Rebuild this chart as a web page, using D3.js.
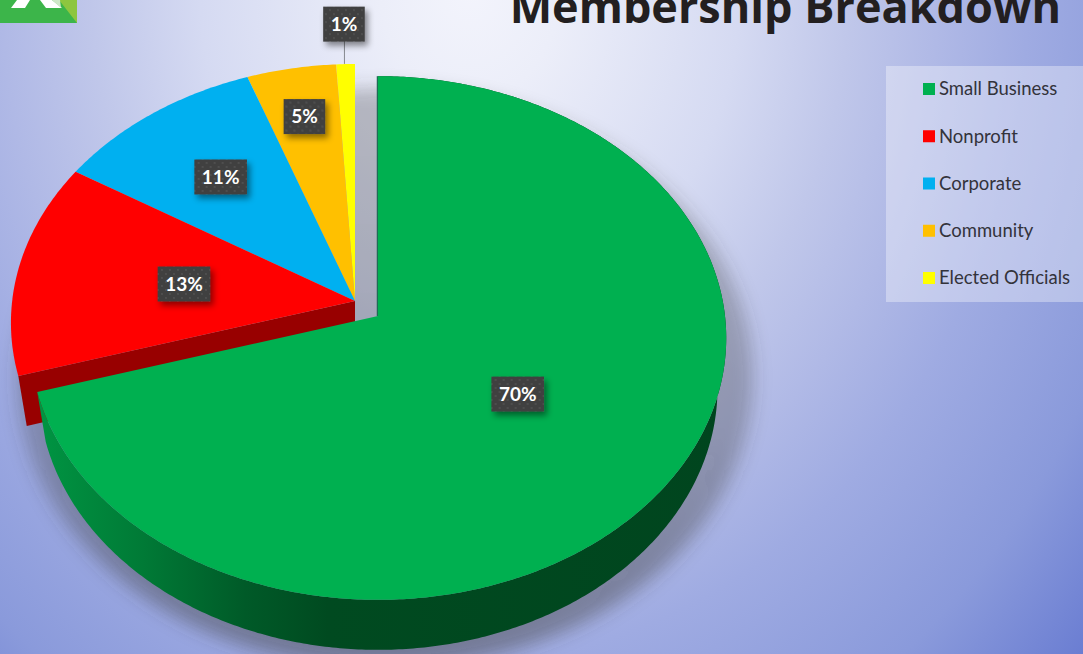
<!DOCTYPE html>
<html>
<head>
<meta charset="utf-8">
<script src="https://cdn.jsdelivr.net/npm/d3@7"></script>
<style>
  html, body { margin: 0; padding: 0; overflow: hidden; }
  svg { display: block; }
</style>
</head>
<body>
<script>
// the data
const categories = ["Small Business", "Nonprofit", "Corporate", "Community", "Elected Officials"];
const shares = [70.4, 13.4, 10.7, 4.55, 0.95];

const colors = ["#00b050", "#ff0000", "#00b0f0", "#ffc000", "#ffff00"];
// how far along the radius each label sits
const labelRadius = [0.49, 0.5, 0.64, 0.77, 1.17];

const width = 1083, height = 654;
const depth = 50, bottomScale = 0.975;
const tilt = 0.084;   // perspective of the tilted disc

// center of the pie and the shift of the pulled out slice
const cx = 355, cy = 301, pullX = 23, pullY = 15;
const restScale = 0.988;

const scaleX = d3.scaleLinear().domain([-1, 1]).range([-347, 347]);
const scaleY = d3.scaleLinear().domain([-1, 1]).range([-260, 260]);

// angle + radius on the flat disc -> pixels relative to the apex
function project(angle, r) {
  const u = r * Math.sin(angle), v = -r * Math.cos(angle);
  const w = 1 - tilt * v;
  return [scaleX(u / w), scaleY(v / w)];
}

const svg = d3.select("body").append("svg")
  .attr("width", width)
  .attr("height", height);

const defs = svg.append("defs");

const bg = defs.append("radialGradient")
  .attr("id", "bg")
  .attr("gradientUnits", "userSpaceOnUse")
  .attr("cx", 0).attr("cy", 0).attr("r", 900)
  .attr("gradientTransform", "translate(470,-10) scale(1,1.2)");
[[0, "#f3f4fc"], [0.1, "#eceef9"], [0.3, "#d5daf2"], [0.42, "#c0c7ea"], [0.52, "#b0b9e6"], [0.62, "#9fabe2"], [0.78, "#8a9adb"], [0.92, "#6a7dd2"], [1, "#5f74ce"]]
  .forEach(s => bg.append("stop").attr("offset", s[0]).attr("stop-color", s[1]));

const rim = defs.append("linearGradient")
  .attr("id", "rim")
  .attr("gradientUnits", "userSpaceOnUse")
  .attr("x1", 40).attr("x2", 726).attr("y1", 0).attr("y2", 0);
[[0, "#009442"], [0.15, "#007a36"], [0.3, "#005a28"], [0.42, "#004a20"], [1, "#00451e"]]
  .forEach(s => rim.append("stop").attr("offset", s[0]).attr("stop-color", s[1]));

// the shadow gets heavier towards the bottom of the pie
const shade = defs.append("linearGradient")
  .attr("id", "shade")
  .attr("x1", 0).attr("x2", 0).attr("y1", 0).attr("y2", 1);
[[0, 0.3], [0.6, 0.32], [1, 0.48]]
  .forEach(s => shade.append("stop").attr("offset", s[0]).attr("stop-color", "#404040").attr("stop-opacity", s[1]));

defs.append("filter").attr("id", "blur")
  .attr("x", "-10%").attr("y", "-10%").attr("width", "120%").attr("height", "120%")
  .append("feGaussianBlur").attr("stdDeviation", 9);

const drop = defs.append("filter").attr("id", "drop")
  .attr("x", "-30%").attr("y", "-30%").attr("width", "170%").attr("height", "170%");
drop.append("feDropShadow")
  .attr("dx", 3).attr("dy", 4).attr("stdDeviation", 3)
  .attr("flood-color", "#000").attr("flood-opacity", 0.45);

const dots = defs.append("pattern").attr("id", "dots")
  .attr("patternUnits", "userSpaceOnUse").attr("width", 8).attr("height", 8);
dots.append("rect").attr("width", 8).attr("height", 8).attr("fill", "#404040");
dots.append("circle").attr("cx", 2).attr("cy", 2).attr("r", 0.9).attr("fill", "#555");
dots.append("circle").attr("cx", 6).attr("cy", 6).attr("r", 0.9).attr("fill", "#555");

// background
svg.append("rect").attr("width", width).attr("height", height).attr("fill", "url(#bg)");

// logo
const logo = svg.append("g");
logo.append("rect").attr("width", 77).attr("height", 23).attr("fill", "#3cb54a");
logo.append("polygon").attr("points", "59,0 77,0 77,23").attr("fill", "#8dc63f");
logo.append("polygon").attr("points", "11,8 25,8 30,0 17,0").attr("fill", "#fff");
logo.append("polygon").attr("points", "40,0 52,0 62,8 46,8").attr("fill", "#fff");
logo.append("polygon").attr("points", "52,0 60,0 61,8").attr("fill", "#cfe8c8");

// title, the top of it runs off the page in the original too
svg.append("text")
  .attr("x", 1061).attr("y", 23)
  .attr("text-anchor", "end")
  .style("font-family", "'Open Sans'")
  .style("font-weight", 700)
  .style("font-size", "45px")
  .style("fill", "#231f20")
  .text("Membership Breakdown");

// soft shadow below the pie
svg.append("ellipse")
  .attr("cx", cx + 30).attr("cy", 378)
  .attr("rx", 368).attr("ry", 290)
  .attr("fill", "url(#shade)")
  .attr("filter", "url(#blur)");

const pie = d3.pie().sort(null).value(d => d);
const slices = pie(shares);
const line = d3.line().curve(d3.curveLinearClosed);

function arcPoints(d, r, k) {
  const n = Math.max(2, Math.ceil((d.endAngle - d.startAngle) / 0.01));
  return d3.range(n + 1).map(i => {
    const p = project(d.startAngle + (d.endAngle - d.startAngle) * i / n, r);
    return [p[0] * k, p[1] * k];
  });
}

const pull = i => (i === 0 ? [pullX, pullY] : [0, 0]);
const sizeOf = i => (i === 0 ? 1 : restScale);
const sunk = p => [p[0] * bottomScale, p[1] + depth];

// slices are painted from the back, the big green one goes last
const order = d3.range(slices.length).reverse();
const pieG = svg.append("g");

order.forEach(i => {
  const d = slices[i], off = pull(i);
  const ox = cx + off[0], oy = cy + off[1];
  const top = arcPoints(d, 1, sizeOf(i));

  if (i === 0) {
    // outer wall, in page coordinates so the gradient runs across the whole pie
    const wall = top.concat(top.map(sunk).reverse()).map(p => [p[0] + ox, p[1] + oy]);
    pieG.append("path")
      .attr("d", line(wall))
      .attr("fill", "url(#rim)");
  }

  const g = pieG.append("g").attr("transform", `translate(${ox},${oy})`);

  if (i === 0) {
    // thin wall seen edge on at twelve o'clock
    g.append("line")
      .attr("x1", -0.5).attr("y1", top[0][1]).attr("x2", -0.5).attr("y2", 0)
      .attr("stroke", "#1f6b55").attr("stroke-width", 1.5);
  }
  if (i === 1) {
    // cut face of the red slice showing next to the green one
    const outer = top[0];
    g.append("path")
      .attr("d", line([[0, 0], outer, sunk(outer), [0, depth]]))
      .attr("fill", "#980000");
  }
  g.append("path")
    .attr("d", line([[0, 0]].concat(top)))
    .attr("fill", colors[i]);
});

// leader for the label outside of the pie
const small = slices[4];
const smallMid = (small.startAngle + small.endAngle) / 2;
svg.append("line")
  .attr("x1", cx + project(smallMid, 1)[0] - 1)
  .attr("x2", cx + project(smallMid, 1)[0] - 1)
  .attr("y1", cy + project(smallMid, restScale)[1])
  .attr("y2", cy + project(smallMid, labelRadius[4])[1])
  .attr("stroke", "#85888f")
  .attr("stroke-width", 1);

// data labels
const fmt = d3.format(".0f");
slices.forEach((d, i) => {
  const off = pull(i);
  const mid = (d.startAngle + d.endAngle) / 2;
  const p = project(mid, labelRadius[i]);
  const g = svg.append("g").attr("transform", `translate(${cx + off[0] + p[0]},${cy + off[1] + p[1]})`);
  const box = g.append("rect").attr("fill", "url(#dots)").attr("filter", "url(#drop)");
  const t = g.append("text")
    .attr("text-anchor", "middle")
    .attr("dy", "0.35em")
    .style("font-family", "Lato")
    .style("font-weight", 700)
    .style("font-size", "19px")
    .style("fill", "#fff")
    .text(fmt(d.data) + "%");
  const w = t.node().getComputedTextLength() + 15;
  box.attr("x", -w / 2).attr("y", -17.5).attr("width", w).attr("height", 35);
});

// legend
const legendRow = d3.scalePoint().domain(categories).range([89, 278]);
const legend = svg.append("g");
legend.append("rect")
  .attr("x", 886).attr("y", 66)
  .attr("width", width - 886).attr("height", 236)
  .attr("fill", "#fff").attr("opacity", 0.35);

const item = legend.selectAll("g.item")
  .data(categories)
  .join("g")
    .attr("class", "item")
    .attr("transform", d => `translate(923,${legendRow(d)})`);
item.append("rect")
  .attr("y", -6)
  .attr("width", 12).attr("height", 12)
  .attr("fill", (d, i) => colors[i]);
item.append("text")
  .attr("x", 16)
  .attr("dy", "0.35em")
  .style("font-family", "Lato")
  .style("font-size", "18.5px")
  .style("fill", "#33333b")
  .text(d => d);
</script>
</body>
</html>
